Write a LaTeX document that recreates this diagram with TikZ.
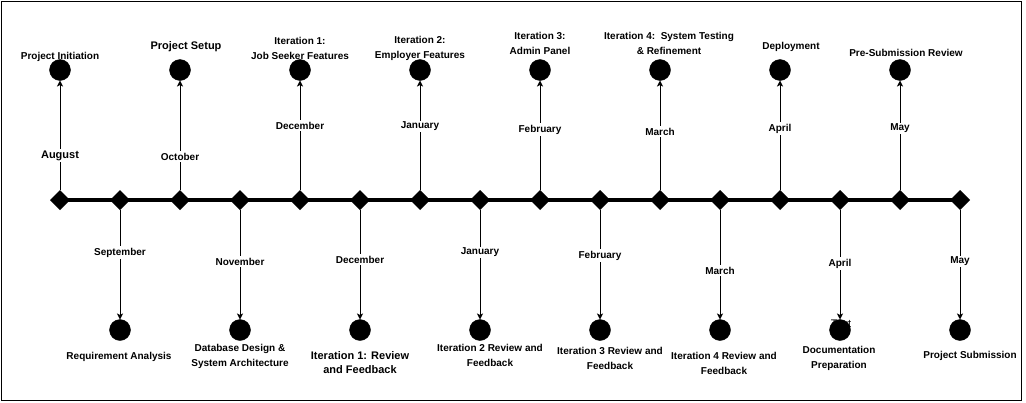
\documentclass[tikz,border=0pt]{standalone}
\usepackage{fontspec}
\setmainfont{Liberation Sans}
\usetikzlibrary{shapes.geometric,arrows.meta,backgrounds}
\begin{document}
\begin{tikzpicture}[x=1pt,y=-1pt,
  dia/.style={diamond,fill=black,minimum width=20pt,minimum height=20pt,inner sep=0pt,outer sep=0pt},
  dot/.style={circle,fill=black,draw=black,minimum size=21pt,inner sep=0pt,outer sep=0pt},
  arr/.style={line width=1pt,-{Stealth[length=6pt,width=6pt,inset=1.5pt]}},
  mainline/.style={line width=4pt},
  lbl/.style={font=\fontsize{10}{15}\selectfont\bfseries,align=center,inner sep=0pt,yshift=-1.5pt},
  biglbl/.style={font=\fontsize{11}{14}\selectfont\bfseries,align=center,inner sep=0pt,yshift=-1.5pt},
  mon/.style={lbl,fill=white,inner sep=1.5pt},
  bigmon/.style={biglbl,fill=white,inner sep=1.5pt},
  stray/.style={font=\fontsize{11}{13}\selectfont,inner sep=0pt}
]
\useasboundingbox (0,0) rectangle (1026,402);
\draw[line width=1pt] (1,1) rectangle (1021,400);

% diamonds
\foreach \i in {1,...,16}{
  \node[dia] (d\i) at ({60*\i},200) {};
}
% main line
\begin{scope}[on background layer]
  \draw[mainline] (d1.center) -- (d16.center);
\end{scope}

% stray text behind a circle
\node[stray] (stray) at (841,324) {Text};

% circles and arrows
\foreach \i in {1,...,16}{
  \ifodd\i \def\cy{70}\else\def\cy{330}\fi
  \node[dot] (c\i) at ({60*\i},\cy) {};
  \draw[arr] (d\i) -- (c\i);
}

% month labels on the arrows (upper)
\node[bigmon] (m1) at (60,154) {August};
\node[mon] (m3) at (180,155) {October};
\node[mon] (m5) at (300,124) {December};
\node[mon] (m7) at (420,125) {January};
\node[mon] (m9) at (540,128) {February};
\node[mon] (m11) at (660,130) {March};
\node[mon] (m13) at (780,127) {April};
\node[mon] (m15) at (900,127) {May};
% month labels on the arrows (lower)
\node[mon] (m2) at (120,251) {September};
\node[mon] (m4) at (240,260) {November};
\node[mon] (m6) at (360,258) {December};
\node[mon] (m8) at (480,251) {January};
\node[mon] (m10) at (600,254) {February};
\node[mon] (m12) at (720,269) {March};
\node[mon] (m14) at (840,262) {April};
\node[mon] (m16) at (960,260) {May};

% upper event labels
\node[lbl] (t1) at (60,55) {Project Initiation};
\node[biglbl] (t3) at (186,45) {Project Setup};
\node[lbl] (t5) at (300,46.5) {Iteration 1:\\Job Seeker Features};
\node[lbl] (t7) at (420,46.5) {Iteration 2:\\Employer Features};
\node[lbl] (t9) at (540,41.5) {Iteration 3:\\Admin Panel};
\node[lbl] (t11) at (669,41.5) {Iteration 4:\ \ System Testing\\\& Refinement};
\node[lbl] (t13) at (791,45) {Deployment};
\node[lbl] (t15) at (906,51) {Pre-Submission Review};

% lower event labels
\node[lbl] (t2) at (119,355.5) {Requirement Analysis};
\node[lbl] (t4) at (240,354.5) {Database Design \&\\System Architecture};
\node[biglbl] (t6) at (360,361) {Iteration 1: Review\\and Feedback};
\node[lbl] (t8) at (490,354) {Iteration 2 Review and\\Feedback};
\node[lbl] (t10) at (610,356.5) {Iteration 3 Review and\\Feedback};
\node[lbl] (t12) at (724,361.5) {Iteration 4 Review and\\Feedback};
\node[lbl] (t14) at (839,356.5) {Documentation\\Preparation};
\node[lbl] (t16) at (970,354) {Project Submission};
\end{tikzpicture}
\end{document}
